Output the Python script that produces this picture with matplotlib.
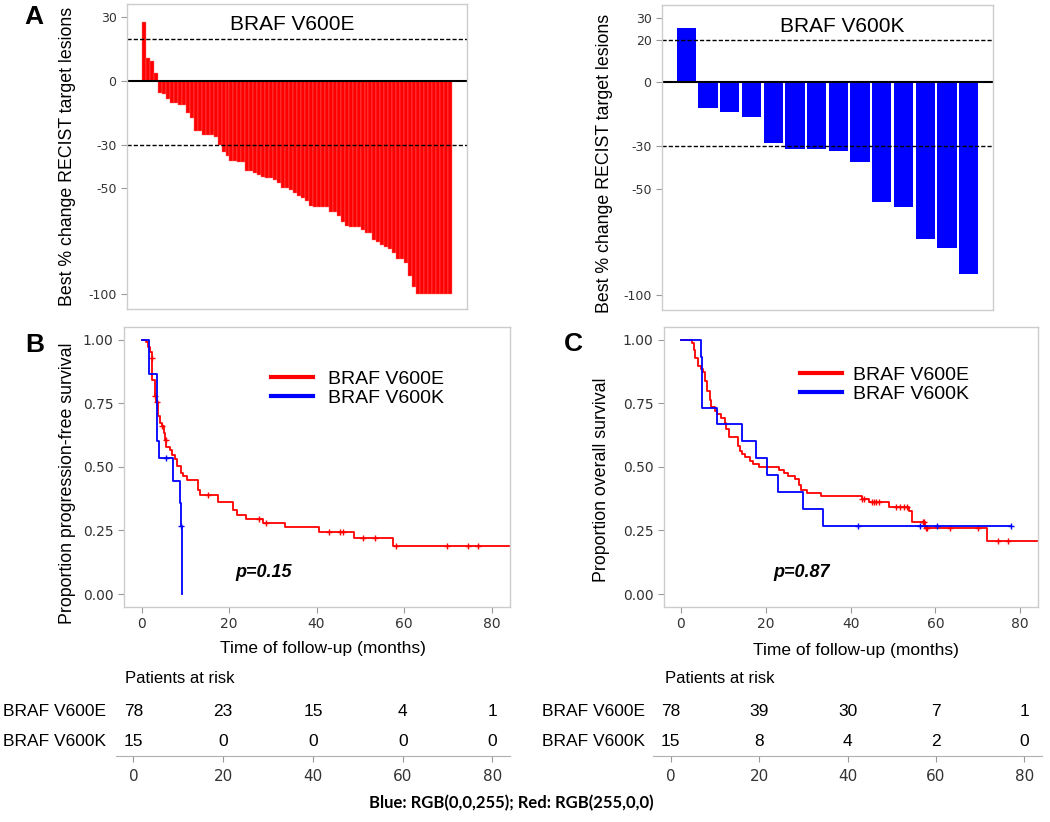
import numpy as np
import matplotlib
matplotlib.use("Agg")
import matplotlib.pyplot as plt
from matplotlib.lines import Line2D

plt.rcParams['axes.unicode_minus'] = False
plt.rcParams['font.family'] = 'DejaVu Sans'

# =========================
# DATA: waterfall (best % change)
# =========================
wf_v600e = [27.7, 10.8, 9.7, 3.8, -5.3, -6.0, -8.3, -10.2, -10.2, -11.3, -11.3, -15.0,
            -17.3, -23.3, -23.3, -25.2, -25.2, -25.2, -26.3, -29.8, -33.0, -35.3, -37.2,
            -37.2, -38.1, -38.1, -42.3, -42.3, -43.1, -43.9, -44.7, -45.5, -45.5, -46.3,
            -47.5, -50.3, -50.3, -50.9, -52.5, -53.6, -54.8, -56.1, -58.3, -58.8, -59.2,
            -59.2, -59.2, -61.4, -61.4, -63.4, -65.8, -67.7, -68.4, -68.4, -68.4, -69.7,
            -71.3, -71.3, -74.4, -75.5, -76.7, -77.5, -78.8, -80.6, -83.4, -83.4, -85.3,
            -91.3, -96.3, -100, -100, -100, -100, -100, -100, -100, -100, -100]
wf_v600k = [25.6, -12.2, -14.2, -16.3, -28.3, -31.3, -31.3, -32.3, -37.3, -56.3,
            -58.3, -73.3, -77.5, -89.7]
wf_ticks_e = [30, 0, -30, -50, -100]
wf_ticks_k = [30, 20, 0, -30, -50, -100]

# =========================
# DATA: Kaplan-Meier step curves
# =========================
pfs_e_t = [0, 1.0, 1.5, 2.0, 2.3, 2.5, 3.0, 3.4, 3.8, 4.2, 4.7, 5.1, 5.4, 5.7, 6.6, 7.0,
           7.6, 8.0, 9.1, 9.5, 10.5, 13.0, 13.3, 17.5, 21.0, 21.8, 23.8, 27.8, 32.8,
           40.5, 48.5, 57.5]
pfs_e_s = [1.0, 0.99, 0.97, 0.95, 0.93, 0.84, 0.78, 0.757, 0.70, 0.672, 0.66, 0.633,
           0.604, 0.58, 0.567, 0.548, 0.53, 0.505, 0.476, 0.463, 0.447, 0.41, 0.39,
           0.36, 0.33, 0.312, 0.296, 0.28, 0.262, 0.244, 0.22, 0.19]
pfs_e_end = 85
pfs_e_cens = [2.3, 3.0, 3.6, 4.7, 5.6, 15.2, 26.8, 28.4, 42.8, 45.3, 46.1, 50.7, 53.3,
              58.1, 69.7, 74.7, 77.0]

pfs_k_t = [0, 1.7, 3.6, 4.0, 7.1, 8.8, 9.0, 9.2]
pfs_k_s = [1.0, 0.867, 0.60, 0.533, 0.444, 0.356, 0.267, 0.0]
pfs_k_end = 9.2
pfs_k_cens = [5.6, 9.05]

os_e_t = [0, 2.6, 3.0, 3.4, 4.0, 4.65, 5.2, 5.6, 6.15, 6.8, 7.2, 8.0, 8.5, 9.5, 10.3,
          10.7, 11.3, 13.5, 13.9, 14.3, 15.1, 16.3, 17.0, 18.5, 23.2, 24.4, 25.3, 26.9,
          27.9, 28.3, 29.7, 33.0, 42.7, 44.3, 49.0, 53.7, 54.5, 57.5, 72.1]
os_e_s = [1.0, 0.987, 0.96, 0.93, 0.897, 0.883, 0.872, 0.836, 0.797, 0.764, 0.736,
          0.719, 0.706, 0.693, 0.673, 0.647, 0.618, 0.581, 0.563, 0.549, 0.537, 0.522,
          0.512, 0.50, 0.488, 0.476, 0.463, 0.451, 0.428, 0.411, 0.398, 0.385, 0.372,
          0.361, 0.342, 0.327, 0.282, 0.26, 0.209]
os_e_end = 85
os_e_cens = [42.7, 43.1, 45.0, 45.6, 46.1, 46.6, 50.6, 51.6, 52.5, 53.3, 57.1, 57.4,
             57.7, 58.0, 63.4, 70.1, 74.8, 77.2]

os_k_t = [0, 4.8, 5.0, 8.5, 14.4, 17.8, 20.2, 22.8, 28.7, 33.6]
os_k_s = [1.0, 0.933, 0.733, 0.667, 0.60, 0.533, 0.467, 0.40, 0.333, 0.267]
os_k_end = 77.9
os_k_cens = [41.8, 56.3, 60.4, 77.9]

# =========================
# DATA: patients at risk
# =========================
risk_times = [0, 20, 40, 60, 80]
groups = ["BRAF V600E", "BRAF V600K"]
risk_pfs_e = [78, 23, 15, 4, 1]
risk_pfs_k = [15, 0, 0, 0, 0]
risk_os_e = [78, 39, 30, 7, 1]
risk_os_k = [15, 8, 4, 2, 0]

RED = '#ff0000'
BLUE = '#0000ff'
GREY = '#cccccc'
ARIAL = 'Liberation Sans'

W, H = 1050, 822
fig = plt.figure(figsize=(W / 100, H / 100), dpi=100)


def px_axes(x0, y0, x1, y1):
    return fig.add_axes([x0 / W, 1 - y1 / H, (x1 - x0) / W, (y1 - y0) / H])


def px_text(x, y, s, **kw):
    return fig.text(x / W, 1 - y / H, s, **kw)


def style_box(ax):
    for sp in ax.spines.values():
        sp.set_color(GREY)
        sp.set_linewidth(1.0)


# =========================
# PANEL A: waterfalls
# =========================
def waterfall(ax, vals, color, width, edge, ticks, title, tx, ty, pad):
    x = np.arange(len(vals))
    ax.bar(x, vals, width=width, color=color, edgecolor=edge, linewidth=0.3)
    ax.set_xlim(-pad, len(vals) - 1 + pad)
    ax.set_ylim(-106.8, 36.2)
    ax.axhline(0, color='black', lw=1.5)
    for yy in (20, -30):
        ax.axhline(yy, color='black', lw=1.0, linestyle=(0, (3, 1.5)))
    ax.set_xticks([])
    ax.set_yticks(ticks)
    ax.tick_params(axis='y', labelsize=9, colors='#333333', length=4, width=0.8)
    ax.tick_params(axis='y', color='#999999')
    style_box(ax)
    ax.text(tx, ty, title, transform=ax.transAxes, ha='center', va='center',
            fontsize=15, family=ARIAL)
    ax.set_ylabel("Best % change RECIST target lesions", family=ARIAL, fontsize=12.8,
                  va='center')


axA1 = px_axes(127, 4, 467, 309)
waterfall(axA1, wf_v600e, RED, 1.0, '#ff7070', wf_ticks_e, "BRAF V600E", 0.487, 0.934, 4.3)
axA1.yaxis.set_label_coords(-0.175, 0.5)

axA2 = px_axes(662, 5, 993, 310)
waterfall(axA2, wf_v600k, BLUE, 0.89, 'none', wf_ticks_k, "BRAF V600K", 0.544, 0.928, 1.12)
axA2.yaxis.set_label_coords(-0.175, 0.482)


# =========================
# PANELS B and C: Kaplan-Meier
# =========================
def km_curve(ax, t, s, end, cens, color):
    tt = list(t) + [end]
    ss = list(s) + [s[-1]]
    ax.step(tt, ss, where='post', color=color, lw=1.3)
    idx = np.searchsorted(np.array(t), np.array(cens), side='right') - 1
    cy = np.array(s)[idx]
    ax.plot(cens, cy, linestyle='none', marker='+', color=color, ms=5, mew=1.0)


def km_axes(ax, ylabel, lx, ly, xlx, xly):
    ax.set_xlim(-4, 84.2)
    ax.set_ylim(-0.051, 1.05)
    ax.set_xticks([0, 20, 40, 60, 80])
    ax.set_yticks([0, 0.25, 0.5, 0.75, 1.0])
    ax.set_yticklabels(["0.00", "0.25", "0.50", "0.75", "1.00"])
    ax.tick_params(labelsize=10, colors='#333333', length=4, width=0.8)
    ax.tick_params(color='#999999')
    style_box(ax)
    ax.set_ylabel(ylabel, family=ARIAL, fontsize=12.8, va='center')
    ax.yaxis.set_label_coords(lx, ly)
    ax.text(xlx, xly, "Time of follow-up (months)", transform=ax.transAxes,
            ha='center', va='center', family=ARIAL, fontsize=12.5)


def km_legend(ax, x, y, tpad):
    handles = [Line2D([], [], color=RED, lw=3), Line2D([], [], color=BLUE, lw=3)]
    ax.legend(handles, groups, loc='upper left', bbox_to_anchor=(x / W, 1 - y / H),
              bbox_transform=fig.transFigure, frameon=False, borderpad=0,
              borderaxespad=0, handlelength=2.16, handletextpad=tpad,
              labelspacing=0.1, prop={'family': ARIAL, 'size': 14})


axB = px_axes(124, 327, 510, 607)
km_curve(axB, pfs_e_t, pfs_e_s, pfs_e_end, pfs_e_cens, RED)
km_curve(axB, pfs_k_t, pfs_k_s, pfs_k_end, pfs_k_cens, BLUE)
km_axes(axB, "Proportion progression-free survival", -0.146, 0.443, 0.5155, -0.1475)
km_legend(axB, 270.7, 370, 0.79)
axB.text(21.5, 0.084, "p=0.15", ha='left', va='center', family=ARIAL, fontsize=13,
         fontweight='bold', fontstyle='italic')

axC = px_axes(664, 327, 1038, 607)
km_curve(axC, os_e_t, os_e_s, os_e_end, os_e_cens, RED)
km_curve(axC, os_k_t, os_k_s, os_k_end, os_k_cens, BLUE)
km_axes(axC, "Proportion overall survival", -0.166, 0.454, 0.513, -0.154)
km_legend(axC, 800, 366, 0.57)
axC.text(21.9, 0.084, "p=0.87", ha='left', va='center', family=ARIAL, fontsize=13,
         fontweight='bold', fontstyle='italic')


# =========================
# RISK TABLES
# =========================
def risk_table(ax, xlim, row_e, row_k, lab_x):
    ax.set_xlim(*xlim)
    ax.set_ylim(-0.48, 1.55)
    for sp in ('left', 'top', 'right'):
        ax.spines[sp].set_visible(False)
    ax.spines['bottom'].set_color('#b0b0b0')
    ax.set_yticks([])
    ax.set_xticks(risk_times)
    ax.tick_params(axis='x', labelsize=11, colors='#333333', length=4, width=0.8,
                   pad=5)
    ax.tick_params(axis='x', color='#999999')
    for row, counts in ((1, row_e), (0, row_k)):
        for t, n in zip(risk_times, counts):
            ax.text(t, row, str(n), ha='center', va='center', family=ARIAL, fontsize=12.5)
        ax.text(lab_x, row, groups[1 - row], transform=ax.get_yaxis_transform(),
                ha='right', va='center', family=ARIAL, fontsize=12.5)


axRB = px_axes(116, 695, 510, 756)
risk_table(axRB, (-3.86, 83.9), risk_pfs_e, risk_pfs_k, -0.025)
px_text(125, 678, "Patients at risk", ha='left', va='center', family=ARIAL, fontsize=12)

axRC = px_axes(652.7, 695, 1041.7, 756)
risk_table(axRC, (-4.07, 83.9), risk_os_e, risk_os_k, -0.02)
px_text(665, 678, "Patients at risk", ha='left', va='center', family=ARIAL, fontsize=12)

# =========================
# PANEL LETTERS AND FOOTER
# =========================
for lx, ly, letter in ((34, 17.5, "A"), (34.5, 344.7, "B"), (573.7, 344, "C")):
    px_text(lx, ly, letter, ha='center', va='center', family=ARIAL, fontsize=19,
            fontweight='bold')

px_text(511.5, 803, "Blue: RGB(0,0,255); Red: RGB(255,0,0)", ha='center', va='center',
        family='Lato', fontsize=12, fontweight='bold')

fig.savefig("out.png", dpi=100)
